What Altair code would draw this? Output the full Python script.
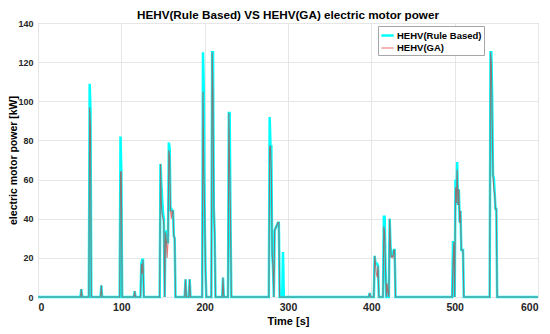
import altair as alt
import pandas as pd

T_END = 600
SERIES = ["HEHV(Rule Based)", "HEHV(GA)"]

# Rule based: non-zero samples (time s -> kW)
rb_t = [52, 62, 63, 76, 99, 100, 116, 124, 125, 126,
        147, 148, 149, 150, 151, 153, 154, 155, 156, 157, 158, 159, 160, 161, 162, 163, 164,
        177, 182, 198, 199, 200, 201, 209, 210, 211, 212, 222, 229, 230, 231,
        278, 279, 280, 281, 282, 284, 285, 286, 287, 288, 289, 294,
        398, 404, 405, 406, 407, 408, 415, 416, 417, 422, 423, 424, 425, 426, 427, 428,
        498, 499, 501, 502, 503, 504, 505, 506, 507, 508, 509, 510,
        543, 544, 545, 546, 547, 548, 549, 550]
rb_v = [4, 109, 95, 6, 82, 64, 3, 17, 19, 19,
        68, 58, 50, 43, 40, 34, 31, 28, 28, 79, 76, 44, 45, 44, 44, 31, 30,
        9, 9, 125, 105, 43, 14, 125, 125, 45, 32, 10, 94, 94, 40,
        92, 77, 77, 22, 15, 34, 35, 36, 37, 38, 38, 23,
        2, 21, 17, 17, 17, 16, 41, 41, 15, 40, 26, 21, 21, 22, 24, 24,
        28, 28, 60, 48, 69, 47, 55, 38, 44, 24, 24, 24,
        125, 125, 102, 62, 61, 53, 45, 45]

# GA: non-zero samples
ga_t = [52, 62, 63, 76, 99, 100, 116, 124, 125, 126,
        147, 148, 149, 150, 151, 153, 154, 155, 156, 157, 158, 159, 160, 161, 162, 163, 164,
        177, 182, 198, 199, 200, 201, 209, 210, 211, 212, 222, 229, 230, 231,
        278, 279, 280, 281, 282, 284, 285, 286, 287, 288, 289,
        398, 404, 405, 406, 407, 408, 415, 416, 417, 419, 420, 422, 423, 424, 425, 426, 427, 428,
        498, 499, 501, 502, 503, 504, 505, 506, 507, 508, 509, 510,
        543, 544, 545, 546, 547, 548, 549, 550]
ga_v = [4, 97, 87, 6, 64, 64, 3, 17, 12, 19,
        68, 48, 42, 40, 38, 33, 29, 20, 28, 75, 72, 44, 40, 44, 44, 31, 30,
        9, 9, 105, 65, 43, 14, 125, 104, 45, 32, 10, 94, 67, 40,
        77, 77, 64, 22, 15, 34, 35, 36, 37, 38, 38,
        2, 21, 17, 12, 10, 16, 36, 33, 15, 7, 2, 40, 26, 20, 21, 20, 24, 24,
        17, 28, 56, 48, 65, 47, 55, 38, 44, 24, 24, 24,
        125, 119, 90, 62, 55, 53, 45, 45]

x_ticks = [0, 100, 200, 300, 400, 500, 600]
y_ticks = [0, 20, 40, 60, 80, 100, 120, 140]

rows = []
for name, tt, vv in [(SERIES[0], rb_t, rb_v), (SERIES[1], ga_t, ga_v)]:
    lookup = dict(zip(tt, vv))
    for t in range(T_END + 1):
        rows.append({"t": t, "p": lookup.get(t, 0), "series": name})
df = pd.DataFrame(rows)

FONT = "Liberation Sans"

color = alt.Color("series:N",
                  scale=alt.Scale(domain=SERIES, range=["#00FFFF", "#E02020"]),
                  legend=alt.Legend(title=None, orient="none", legendX=340, legendY=3,
                                    symbolType="stroke", symbolSize=150,
                                    labelFont=FONT, labelFontSize=9.5, labelFontWeight="bold",
                                    labelColor="#000000", labelOffset=2,
                                    fillColor="white", strokeColor="#a6a6a6",
                                    padding=2, rowPadding=0, cornerRadius=0))
sw = alt.StrokeWidth("series:N", scale=alt.Scale(type="ordinal", domain=SERIES, range=[2.5, 1.1]))
op = alt.Opacity("series:N", scale=alt.Scale(type="ordinal", domain=SERIES, range=[1.0, 0.6]))

x = alt.X("t:Q", scale=alt.Scale(domain=[0, 600], nice=False),
          axis=alt.Axis(values=x_ticks, title="Time [s]", labelPadding=5, titlePadding=3,
                        labelFontSize=10.5, titleFontSize=11))
y = alt.Y("p:Q", scale=alt.Scale(domain=[0, 140], nice=False),
          axis=alt.Axis(values=y_ticks, title="electric motor power [kW]", labelPadding=5,
                        titleX=-20, titleY=137, labelFontSize=9, titleFontSize=10.5))

base = alt.Chart(df)
rb_layer = base.transform_filter(alt.datum.series == SERIES[0]).mark_line(interpolate="linear").encode(
    x=x, y=y, color=color, strokeWidth=sw, opacity=op, detail="series:N")
ga_layer = base.transform_filter(alt.datum.series == SERIES[1]).mark_line(interpolate="linear").encode(
    x=x, y=y, color=color, strokeWidth=sw, opacity=op, detail="series:N")

chart = alt.layer(rb_layer, ga_layer).properties(
    width=500, height=274,
    title=alt.TitleParams(text="HEHV(Rule Based) VS HEHV(GA) electric motor power",
                          font=FONT, fontSize=11.7, fontWeight="bold", color="#000000",
                          anchor="middle", offset=2, frame="group", dy=5),
    autosize=alt.AutoSizeParams(type="none"),
    padding={"left": 30, "top": 15, "right": 4, "bottom": 30},
).configure_axis(
    labelFont=FONT, titleFont=FONT, labelFontWeight="bold", titleFontWeight="bold",
    labelColor="#262626", titleColor="#000000",
    gridColor="#e6e6e6", gridWidth=1, domain=False, ticks=False,
).configure_view(stroke="#a8a8a8", strokeWidth=1)

chart.save("out.html", embed_options={"renderer": "svg", "actions": False})
